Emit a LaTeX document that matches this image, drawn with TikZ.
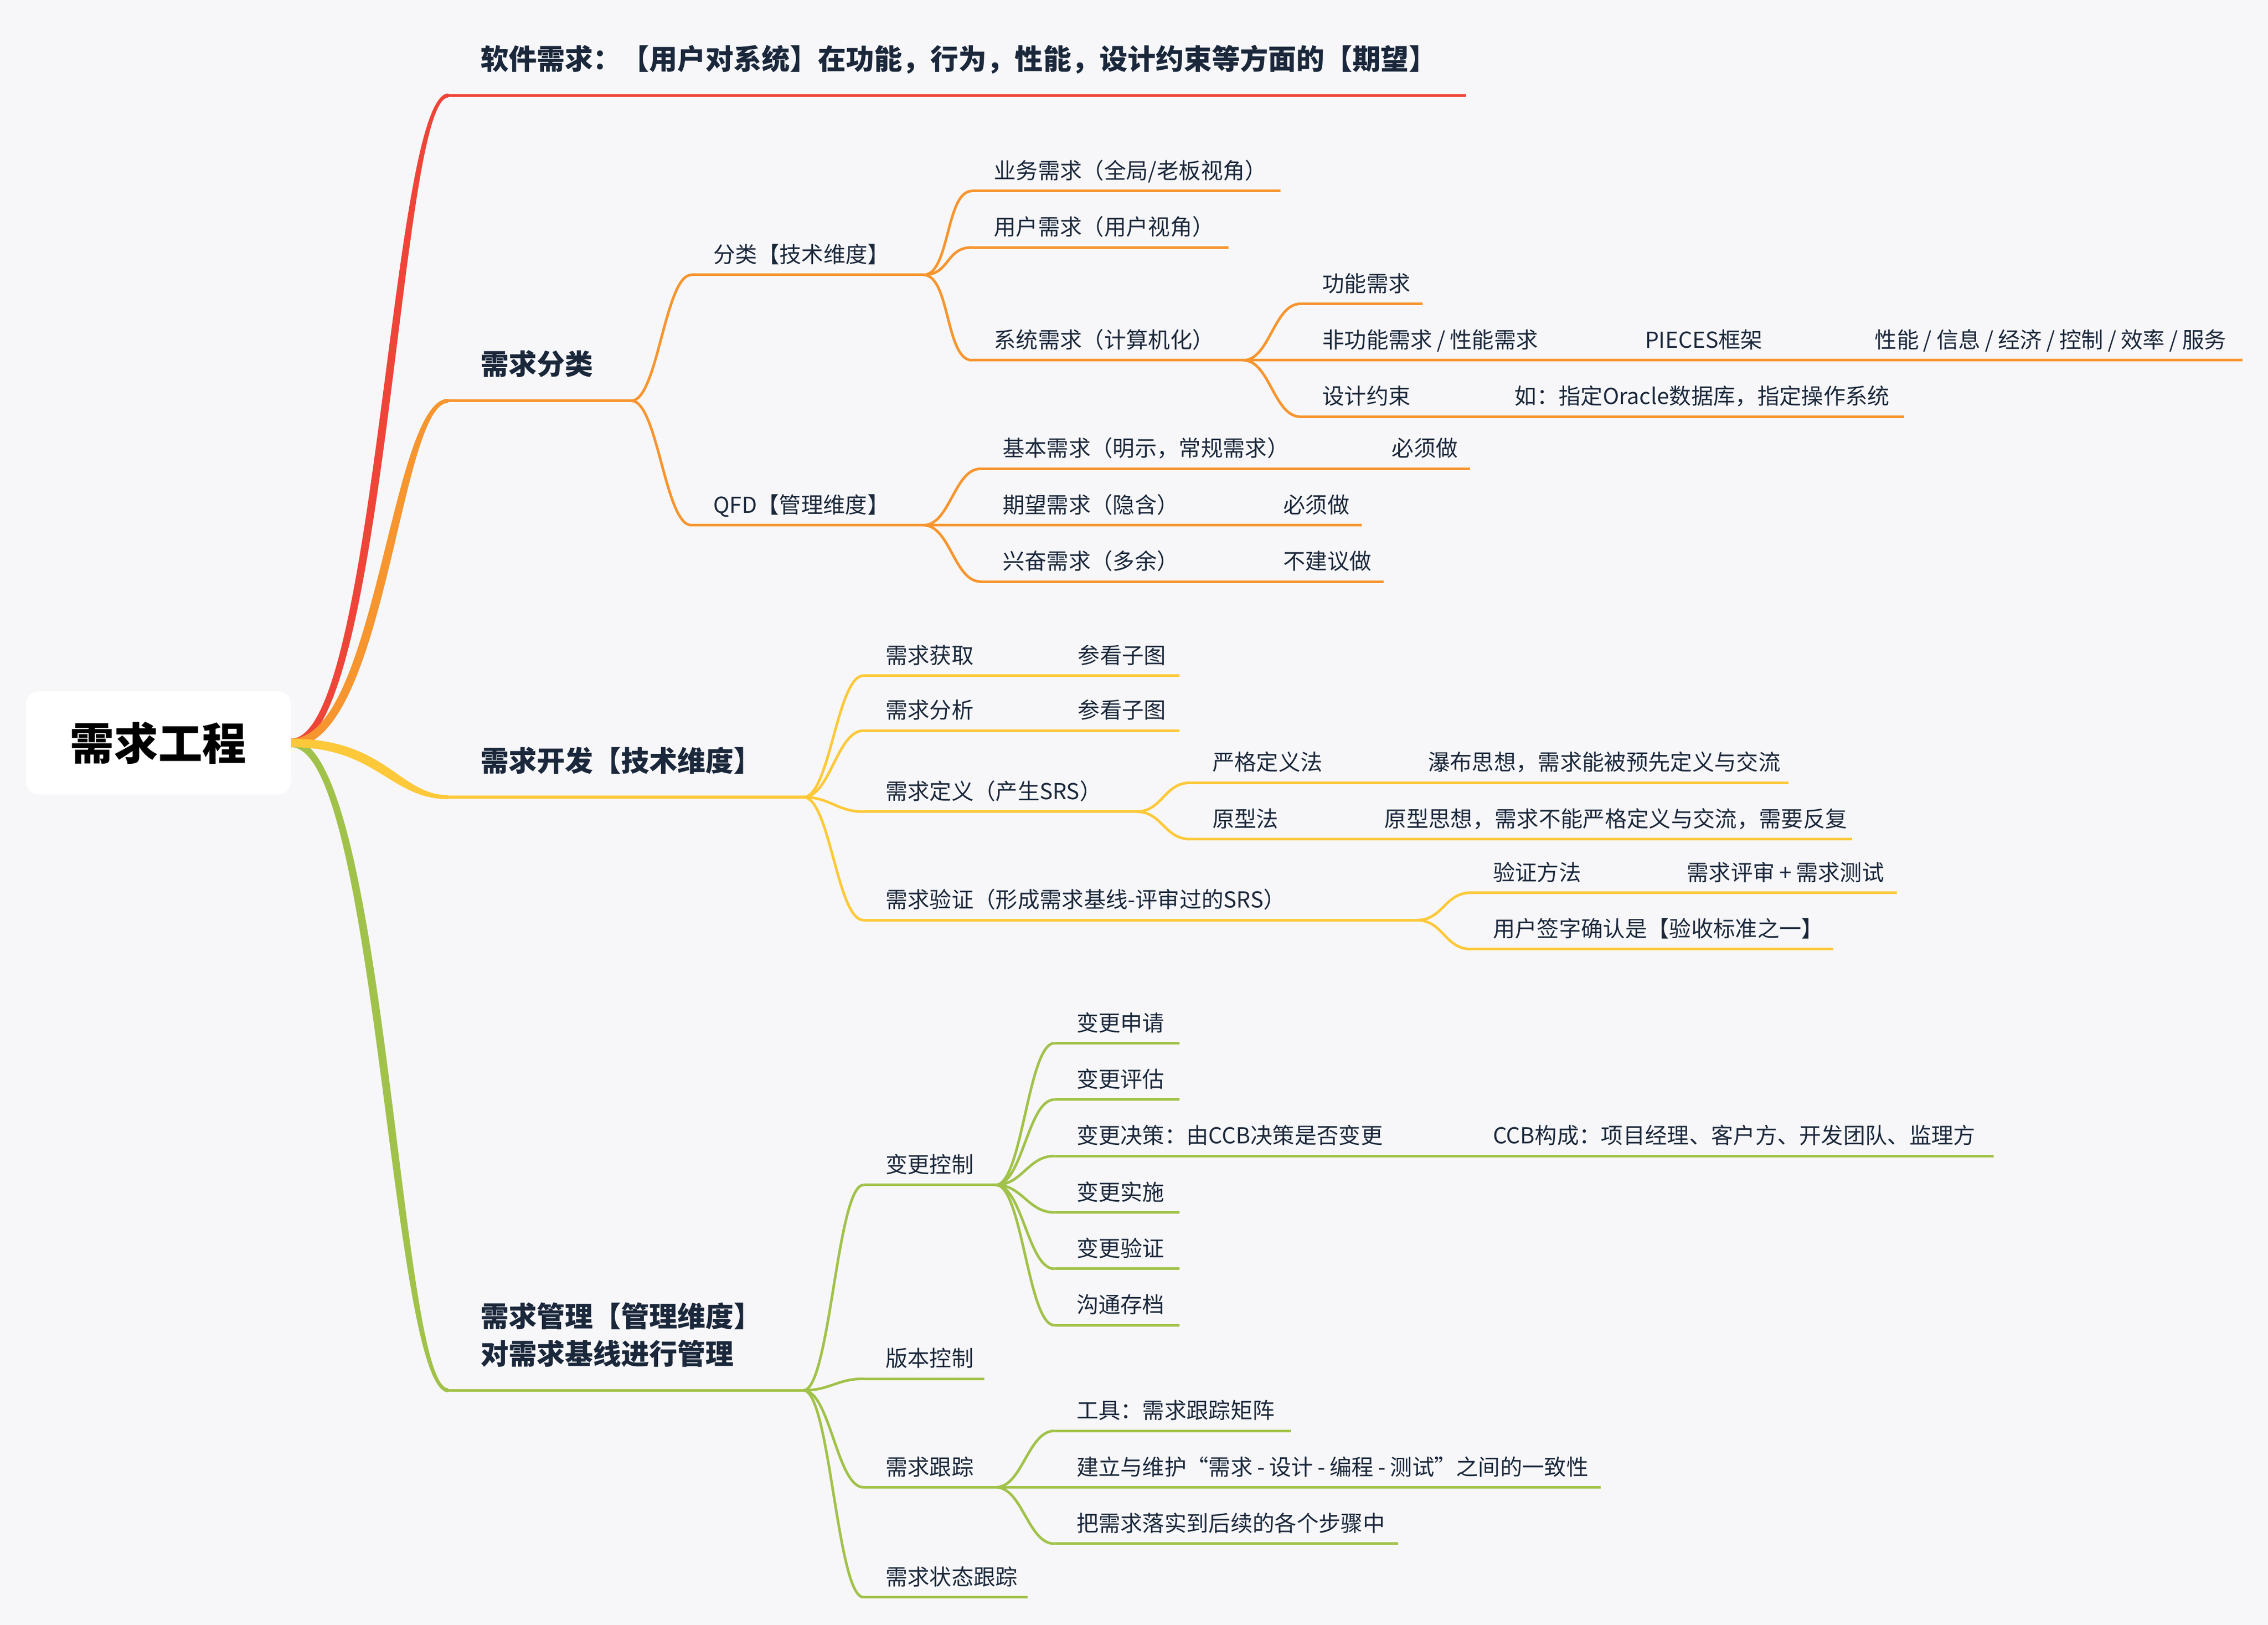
\documentclass[tikz,border=0pt]{standalone}
\usepackage{fontspec}
\setmainfont{Noto Sans CJK SC}
\definecolor{paper}{HTML}{F7F7F9}
\definecolor{ink}{HTML}{1B283B}
\definecolor{redbr}{HTML}{EF4539}
\definecolor{orangebr}{HTML}{F7952F}
\definecolor{yellowbr}{HTML}{FDC93A}
\definecolor{greenbr}{HTML}{A1C24A}
\newcommand\sep[1]{\mbox{\hspace{0.2em}#1\hspace{0.2em}}}

\begin{document}
\begin{tikzpicture}[x=0.03cm, y=-0.03cm,
    topic/.style={anchor=south west, inner xsep=0.45cm, inner ysep=0.245cm, text depth=0pt,
      text width=#1*0.03cm-0.9cm, align=left, text=ink, font=\fontsize{13pt}{16pt}\selectfont},
    main/.style={topic=#1, inner xsep=0.66cm, inner ysep=0.53cm,
      text width=#1*0.03cm-1.32cm, font=\fontsize{16.6pt}{22pt}\selectfont\bfseries},
    root/.style={fill=white, rounded corners=0.25cm, minimum width=5.49cm, minimum height=2.13cm,
      font=\fontsize{26pt}{30pt}\selectfont\bfseries},
    ln/.style={line width=1.55pt},
    mainln/.style={line width=1.6pt},
    link/.style={out=0, in=180, distance=0.55cm}]

  \useasboundingbox (0,0) rectangle (1568,1123);
  \fill[paper] (0,0) rectangle (1568,1123);

  \node[root] (root) at (109.5,513.5) {需求工程};

  % first level
  \node[main=703] (req) at (310,66) {软件需求：【用户对系统】在功能，行为，性能，设计约束等方面的【期望】};
  \node[main=126] (cls) at (310,277) {需求分类};
  \node[main=245] (dev) at (310,551) {需求开发【技术维度】};
  \node[main=245, text depth=22pt] (mgt) at (310,961) {需求管理【管理维度】\\对需求基线进行管理};

  % 需求分类
  \node[topic=160] (tech) at (478,190) {分类【技术维度】};
  \node[topic=160] (qfd) at (478,363) {QFD【管理维度】};
  \node[topic=213] (biz) at (672,132) {业务需求（全局/老板视角）};
  \node[topic=177] (usr) at (672,171) {用户需求（用户视角）};
  \node[topic=187] (sys) at (672,249) {系统需求（计算机化）};
  \node[topic=84] (func) at (899,210) {功能需求};
  \node[topic=205] (nfr) at (899,249) {非功能需求\sep/性能需求};
  \node[topic=140] (pieces) at (1122,249) {PIECES框架};
  \node[topic=269] (perf) at (1281,249) {性能\sep/信息\sep/经济\sep/控制\sep/效率\sep/服务};
  \node[topic=118] (des) at (899,288) {设计约束};
  \node[topic=284] (eg) at (1032,288) {如：指定Oracle数据库，指定操作系统};
  \node[topic=254] (basic) at (678,324) {基本需求（明示，常规需求）};
  \node[topic=69] (must1) at (947,324) {必须做};
  \node[topic=179] (exp) at (678,363) {期望需求（隐含）};
  \node[topic=69] (must2) at (872,363) {必须做};
  \node[topic=179] (exc) at (678,402) {兴奋需求（多余）};
  \node[topic=84] (nrec) at (872,402) {不建议做};

  % 需求开发
  \node[topic=118] (get) at (597,467) {需求获取};
  \node[topic=85] (see1) at (730,467) {参看子图};
  \node[topic=118] (ana) at (597,505) {需求分析};
  \node[topic=85] (see2) at (730,505) {参看子图};
  \node[topic=188] (def) at (597,561) {需求定义（产生SRS）};
  \node[topic=135] (strict) at (823,541) {严格定义法};
  \node[topic=264] (wfall) at (972,541) {瀑布思想，需求能被预先定义与交流};
  \node[topic=105] (proto) at (823,580) {原型法};
  \node[topic=338] (pidea) at (942,580) {原型思想，需求不能严格定义与交流，需要反复};
  \node[topic=382] (ver) at (597,636) {\mbox{需求验证（形成需求基线-评审过的SRS）}};
  \node[topic=118] (vm) at (1017,617) {验证方法};
  \node[topic=160] (rt) at (1151,617) {需求评审\sep+需求测试};
  \node[topic=250] (sign) at (1017,656) {用户签字确认是【验收标准之一】};

  % 需求管理
  \node[topic=91] (chg) at (597,819) {变更控制};
  \node[topic=86] (c1) at (729,721) {变更申请};
  \node[topic=86] (c2) at (729,760) {变更评估};
  \node[topic=273] (c3) at (729,799) {变更决策：由CCB决策是否变更};
  \node[topic=361] (ccb) at (1017,799) {CCB构成：项目经理、客户方、开发团队、监理方};
  \node[topic=86] (c4) at (729,838) {变更实施};
  \node[topic=86] (c5) at (729,877) {变更验证};
  \node[topic=86] (c6) at (729,916) {沟通存档};
  \node[topic=83] (vctl) at (597,953) {版本控制};
  \node[topic=91] (trk) at (597,1028) {需求跟踪};
  \node[topic=163] (tool) at (729,989) {工具：需求跟踪矩阵};
  \node[topic=377] (cons) at (729,1028) {\mbox{建立与维护“需求\sep-设计\sep-编程\sep-测试”之间的一致性}};
  \node[topic=237] (impl) at (729,1067) {把需求落实到后续的各个步骤中};
  \node[topic=113] (sttrk) at (597,1104) {需求状态跟踪};

  % tapered branches from the root
  \fill[redbr] ([yshift=-2.5pt]root.east) .. controls +(66,0) and +(-34,0) .. ([yshift=-1.2pt]req.south west)
    -- ([yshift=1.2pt]req.south west) .. controls +(-40,0) and +(59,0) .. ([yshift=2.5pt]root.east) -- cycle;
  \fill[orangebr] ([yshift=-2.5pt]root.east) .. controls +(66,0) and +(-34,0) .. ([yshift=-1.2pt]cls.south west)
    -- ([yshift=1.2pt]cls.south west) .. controls +(-40,0) and +(59,0) .. ([yshift=2.5pt]root.east) -- cycle;
  \fill[greenbr] ([yshift=2.5pt]root.east) .. controls +(66,0) and +(-34,0) .. ([yshift=1.2pt]mgt.south west)
    -- ([yshift=-1.2pt]mgt.south west) .. controls +(-40,0) and +(59,0) .. ([yshift=-2.5pt]root.east) -- cycle;
  \fill[yellowbr] ([yshift=2.5pt]root.east) .. controls +(66,0) and +(-34,0) .. ([yshift=1.2pt]dev.south west)
    -- ([yshift=-1.2pt]dev.south west) .. controls +(-40,0) and +(59,0) .. ([yshift=-2.5pt]root.east) -- cycle;

  \draw[mainln, redbr] (req.south west) -- (req.south east);
  \draw[mainln, orangebr] (cls.south west) -- (cls.south east);
  \draw[mainln, yellowbr] (dev.south west) -- (dev.south east);
  \draw[mainln, greenbr] (mgt.south west) -- (mgt.south east);

  % underlines
  \foreach \n in {tech,qfd,biz,usr,sys,func,nfr,pieces,perf,des,eg,basic,must1,exp,must2,exc,nrec}
    \draw[ln, orangebr] (\n.south west) -- (\n.south east);
  \foreach \n in {get,see1,ana,see2,def,strict,wfall,proto,pidea,ver,vm,rt,sign}
    \draw[ln, yellowbr] (\n.south west) -- (\n.south east);
  \foreach \n in {chg,c1,c2,c3,ccb,c4,c5,c6,vctl,trk,tool,cons,impl,sttrk}
    \draw[ln, greenbr] (\n.south west) -- (\n.south east);

  % connectors
  \foreach \a/\b in {cls/tech,cls/qfd,tech/biz,tech/usr,tech/sys,sys/func,sys/nfr,nfr/pieces,pieces/perf,
      sys/des,des/eg,qfd/basic,qfd/exp,qfd/exc,basic/must1,exp/must2,exc/nrec}
    \draw[ln, orangebr] (\a.south east) to[link] (\b.south west);
  \foreach \a/\b in {dev/get,dev/ana,dev/def,dev/ver,get/see1,ana/see2,def/strict,def/proto,
      strict/wfall,proto/pidea,ver/vm,ver/sign,vm/rt}
    \draw[ln, yellowbr] (\a.south east) to[link] (\b.south west);
  \foreach \a/\b in {mgt/chg,mgt/vctl,mgt/trk,mgt/sttrk,chg/c1,chg/c2,chg/c3,chg/c4,chg/c5,chg/c6,
      c3/ccb,trk/tool,trk/cons,trk/impl}
    \draw[ln, greenbr] (\a.south east) to[link] (\b.south west);
\end{tikzpicture}
\end{document}
